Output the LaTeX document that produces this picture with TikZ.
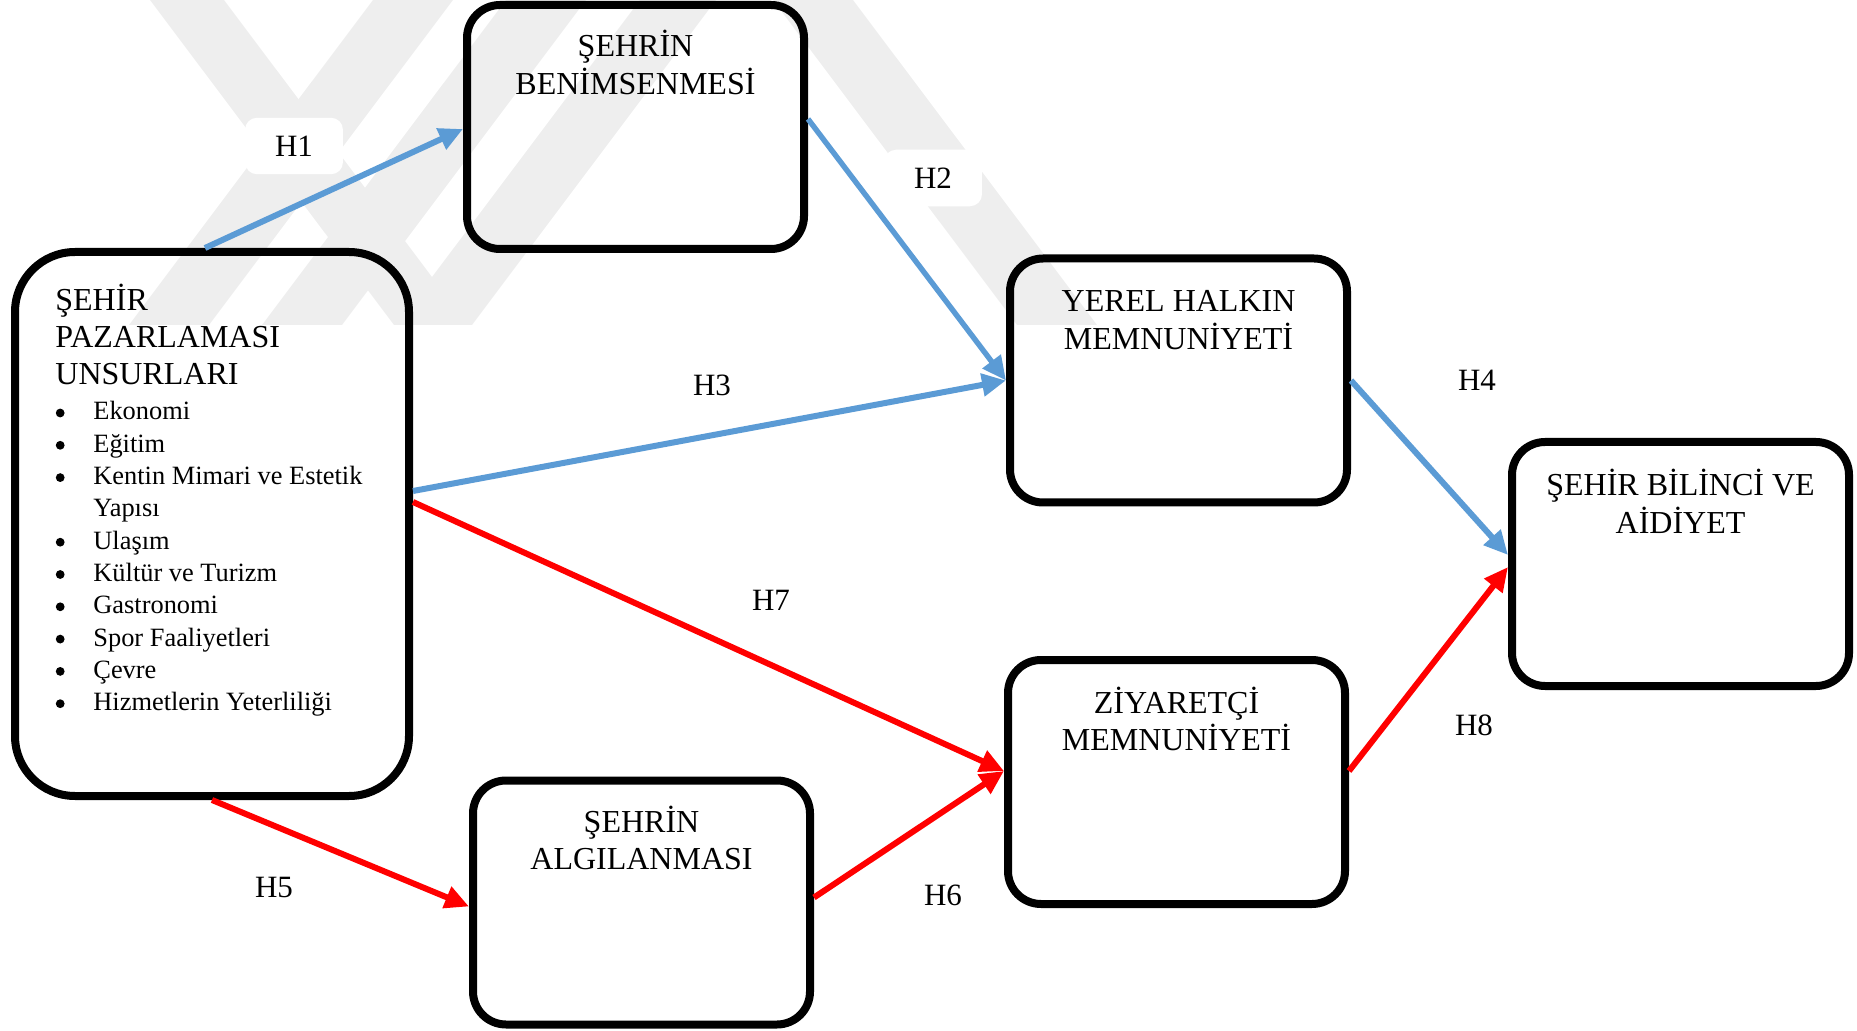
\documentclass[tikz,border=0pt]{standalone}
\usepackage{fontspec}
\setmainfont{Liberation Serif}
\usetikzlibrary{arrows.meta,calc}

\definecolor{linkblue}{HTML}{5B9BD5}
\definecolor{linkred}{HTML}{FF0000}
\definecolor{wmgray}{HTML}{EEEEEE}

\tikzset{
  box/.style={draw=black, line width=4pt, rounded corners=16.5pt,
    minimum width=168.5pt, minimum height=122pt, inner sep=0pt},
  bigbox/.style={box, rounded corners=30pt,
    minimum width=197pt, minimum height=272pt},
  title/.style={anchor=base, inner sep=0pt, font=\fontsize{16}{18.5}\selectfont},
  hlabel/.style={fill=white, rounded corners=6pt, inner xsep=15pt, inner ysep=9pt,
    font=\fontsize{15.5}{18.5}\selectfont},
  blueflow/.style={draw=linkblue, line width=3pt, -{Triangle[length=12pt,width=11pt]}},
  redflow/.style={blueflow, draw=linkred},
  band/.style={fill=wmgray, draw=none},
  listdot/.style={fill=black}
}

\begin{document}
\begin{tikzpicture}[x=0.5pt,y=-0.5pt]
  \useasboundingbox (0,0) rectangle (1857,1031);

  % faint striped background emblem
  \begin{scope}
    \clip (0,0) rectangle (1857,325);
    \foreach \a/\b in {150/224, 773/853}
      \fill[band] (\a,0) -- (\b,0) -- (\b+244,325) -- (\a+244,325) -- cycle;
    \foreach \a/\b in {373/453, 506/586, 640/716}
      \fill[band] (\a,0) -- (\b,0) -- (\b-244,325) -- (\a-244,325) -- cycle;
  \end{scope}

  % hypothesis labels
  \node[hlabel] (h1) at (294,146) {H1};
  \node[hlabel] (h2) at (933,178) {H2};
  \node[hlabel] (h3) at (712,385) {H3};
  \node[hlabel] (h4) at (1477,380) {H4};
  \node[hlabel] (h5) at (274,887) {H5};
  \node[hlabel] (h6) at (943,895) {H6};
  \node[hlabel] (h7) at (771,600) {H7};
  \node[hlabel] (h8) at (1474,725) {H8};

  % construct boxes
  \node[bigbox] (A) at (212,524) {};
  \node[box] (B) at (635.5,127) {};
  \node[box] (C) at (1178.5,380.5) {};
  \node[box] (D) at (1680.5,564) {};
  \node[box] (E) at (1176.5,782) {};
  \node[box] (F) at (641.5,902.5) {};

  % box texts
  \node[title, anchor=base west] (Atitle) at ([xshift=22pt,yshift=-31.5pt]A.north west)
    {\begin{tabular}[t]{@{}l@{}}ŞEHİR\\PAZARLAMASI\\UNSURLARI\end{tabular}};
  \node[anchor=base west, inner sep=0pt, font=\fontsize{13.2}{16.15}\selectfont] (Alist)
    at ([xshift=22pt,yshift=-86pt]A.north west)
    {\begin{tabular}[t]{@{}p{19pt}@{}l@{}}
      & Ekonomi\\
      & Eğitim\\
      & Kentin Mimari ve Estetik\\
      & Yapısı\\
      & Ulaşım\\
      & Kültür ve Turizm\\
      & Gastronomi\\
      & Spor Faaliyetleri\\
      & Çevre\\
      & Hizmetlerin Yeterliliği
    \end{tabular}};
  % list bullets, one per item row (row 3 continues item 2)
  \foreach \k in {0,1,2,4,5,6,7,8,9}
    \fill[listdot] ([xshift=2.6pt,yshift=3.5pt-16.15pt*\k]Alist.base west) circle[radius=2.2pt];

  \node[title] (Btitle) at ([yshift=-28pt]B.north)
    {\begin{tabular}[t]{@{}c@{}}ŞEHRİN\\BENİMSENMESİ\end{tabular}};
  \node[title] (Ctitle) at ([yshift=-28.5pt]C.north)
    {\begin{tabular}[t]{@{}c@{}}YEREL HALKIN\\MEMNUNİYETİ\end{tabular}};
  \node[title] (Dtitle) at ([yshift=-29pt]D.north)
    {\begin{tabular}[t]{@{}c@{}}ŞEHİR BİLİNCİ VE\\AİDİYET\end{tabular}};
  \node[title] (Etitle) at ([yshift=-28.5pt]E.north)
    {\begin{tabular}[t]{@{}c@{}}ZİYARETÇİ\\MEMNUNİYETİ\end{tabular}};
  \node[title] (Ftitle) at ([yshift=-28pt]F.north)
    {\begin{tabular}[t]{@{}c@{}}ŞEHRİN\\ALGILANMASI\end{tabular}};

  % hypothesised paths
  \draw[blueflow] ([xshift=-3.5pt]A.north) -- ([yshift=-1pt]B.west);
  \draw[blueflow, line width=2.7pt] ([yshift=4pt]B.east) -- (C.west);
  \draw[blueflow] ([yshift=16.5pt]A.east) -- (C.west);
  \draw[blueflow] (C.east) -- ([yshift=4.5pt]D.west);
  \draw[redflow] (A.south) -- ([yshift=-2pt]F.west);
  \draw[redflow] ([yshift=2.5pt]F.east) -- ([yshift=5.5pt]E.west);
  \draw[redflow] ([yshift=11pt]A.east) -- ([yshift=5.5pt]E.west);
  \draw[redflow] ([yshift=5.5pt]E.east) -- ([yshift=-1.5pt]D.west);
\end{tikzpicture}
\end{document}
